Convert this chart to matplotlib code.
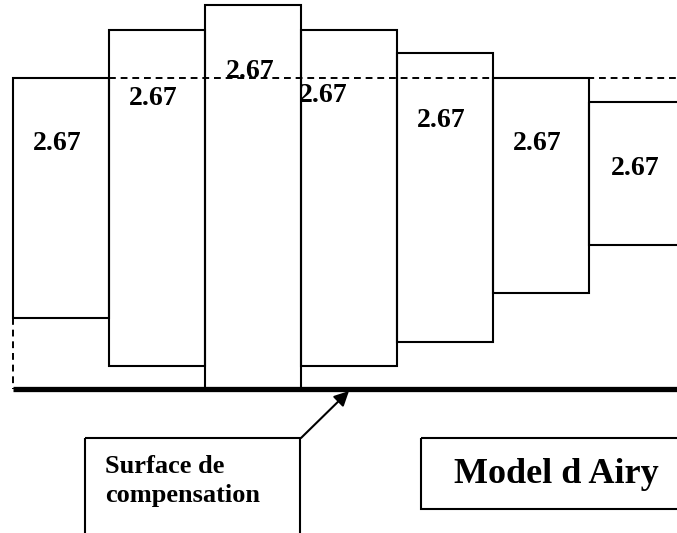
import matplotlib.pyplot as plt
from matplotlib.patches import Rectangle, FancyArrowPatch

# colonnes (coordonnees en pixels, y vers le bas)
col_left = [13, 109, 205, 301, 397, 493, 589]
col_right = [109, 205, 301, 397, 493, 589, 690]
col_top = [78, 30, 5, 30, 53, 78, 102]
col_bottom = [318, 366, 390, 366, 342, 293, 245]
densite = ['2.67'] * 7
lab_x = [57, 153, 250, 323, 441, 537, 635]
lab_y = [150, 105, 78, 102, 127, 150, 175]

niveau_mer = 78
surface_comp = 389

fig = plt.figure(figsize=(6.77, 5.33), dpi=100)
ax = fig.add_axes([0, 0, 1, 1])
ax.set_xlim(0, 677)
ax.set_ylim(533, 0)
ax.axis('off')

police = dict(family='Liberation Serif', weight='bold', color='black')

for l, r, t, b, txt, tx, ty in zip(col_left, col_right, col_top, col_bottom,
                                   densite, lab_x, lab_y):
    ax.add_patch(Rectangle((l, t), r - l, b - t, fill=False,
                           edgecolor='black', lw=1.5, zorder=2))
    ax.text(tx, ty, txt, ha='center', va='baseline', fontsize=20, zorder=1,
            **police)

# niveau de reference (tirets)
ax.plot([col_right[0], 677], [niveau_mer, niveau_mer], color='black',
        lw=1.4, linestyle=(0, (3.5, 2.5)), zorder=3)
ax.plot([col_left[0], col_left[0]], [col_bottom[0], surface_comp],
        color='black', lw=1.4, linestyle=(0, (3.5, 2.5)), zorder=3)

# surface de compensation
ax.plot([col_left[0], 677], [surface_comp, surface_comp], color='black',
        lw=3.8, solid_capstyle='butt', zorder=4)

# encadre "Surface de compensation"
ax.add_patch(Rectangle((85, 438), 300 - 85, 120, fill=False,
                       edgecolor='black', lw=1.5, clip_on=True))
ax.text(105, 473, 'Surface de', ha='left', va='baseline', fontsize=19,
        **police)
ax.text(105, 502, 'compensation', ha='left', va='baseline', fontsize=19,
        **police)

arr = FancyArrowPatch((301, 438), (349, 391), arrowstyle='-|>',
                      mutation_scale=22, color='black', lw=1.5,
                      shrinkA=0, shrinkB=0)
ax.add_patch(arr)

# encadre "Model d Airy"
ax.add_patch(Rectangle((421, 438), 300, 509 - 438, fill=False,
                       edgecolor='black', lw=1.5))
ax.text(556, 483, 'Model d Airy', ha='center', va='baseline', fontsize=26,
        **police)

fig.savefig('out.png', dpi=100)
